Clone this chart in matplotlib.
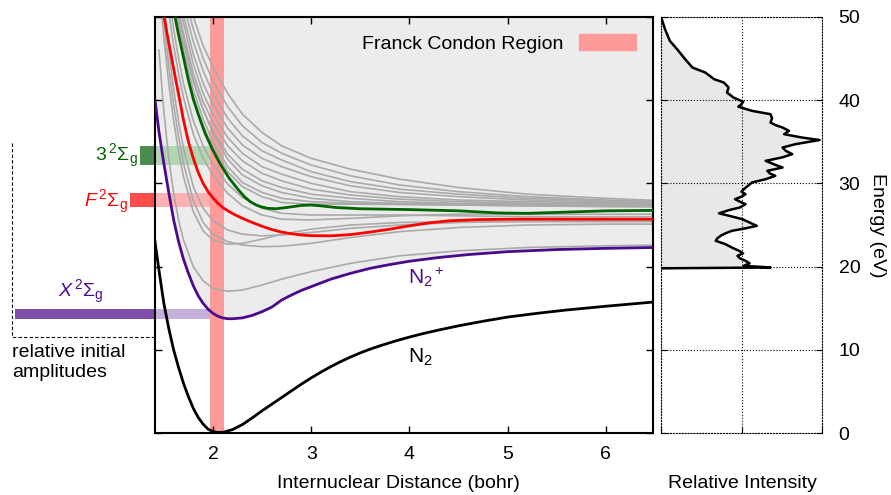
import matplotlib
matplotlib.use("Agg")
import matplotlib.pyplot as plt
from matplotlib.patches import Patch

plt.rcParams['font.family'] = ['Liberation Sans', 'DejaVu Sans']
plt.rcParams['mathtext.fontset'] = 'custom'
plt.rcParams['mathtext.rm'] = 'Liberation Sans'
plt.rcParams['mathtext.it'] = 'Liberation Sans:italic'
plt.rcParams['mathtext.sf'] = 'Liberation Sans'
plt.rcParams['font.size'] = 14

# ground state N2
r_n2 = [1.41, 1.45, 1.50, 1.55, 1.60, 1.65, 1.70, 1.75, 1.80, 1.85, 1.90, 1.95, 2.00, 2.05, 2.10, 2.20,
        2.30, 2.40, 2.50, 2.60, 2.70, 2.80, 2.90, 3.00, 3.10, 3.20, 3.30, 3.40, 3.50, 3.60, 3.70, 3.85,
        4.00, 4.15, 4.30, 4.50, 4.75, 5.00, 5.30, 5.60, 6.00, 6.48]
e_n2 = [23.0, 19.6, 15.6, 12.6, 10.0, 7.9, 6.0, 4.4, 3.0, 1.9, 1.1, 0.5, 0.2, 0.1, 0.12, 0.45,
        1.05, 1.85, 2.7, 3.5, 4.3, 5.1, 5.9, 6.65, 7.35, 8.0, 8.6, 9.15, 9.65, 10.1, 10.5, 11.05,
        11.55, 12.0, 12.4, 12.9, 13.45, 13.95, 14.4, 14.8, 15.25, 15.75]

# N2+ ground state (X 2Sigma_g)
r_x = [1.41, 1.45, 1.50, 1.55, 1.60, 1.65, 1.70, 1.75, 1.80, 1.85, 1.90, 1.95, 2.00, 2.05, 2.10, 2.15,
       2.20, 2.30, 2.40, 2.50, 2.60, 2.70, 2.80, 2.90, 3.00, 3.20, 3.40, 3.60, 3.80, 4.00, 4.30, 4.60,
       5.00, 5.50, 6.00, 6.48]
e_x = [40.0, 36.2, 32.4, 28.9, 25.6, 23.0, 20.9, 19.2, 17.7, 16.5, 15.6, 14.9, 14.4, 14.05, 13.85, 13.75,
       13.75, 13.85, 14.15, 14.6, 15.15, 16.0, 16.6, 17.15, 17.6, 18.5, 19.2, 19.8, 20.25, 20.65, 21.1, 21.45,
       21.8, 22.05, 22.2, 22.3]

# F 2Sigma_g
r_f = [1.50, 1.54, 1.58, 1.62, 1.66, 1.70, 1.75, 1.80, 1.85, 1.90, 1.95, 1.99, 2.05, 2.10, 2.16, 2.22,
       2.30, 2.40, 2.50, 2.60, 2.70, 2.80, 2.90, 3.00, 3.20, 3.40, 3.60, 3.80, 4.00, 4.20, 4.40, 4.70,
       5.10, 6.48]
e_f = [50.2, 47.5, 45.0, 42.5, 40.1, 37.6, 35.0, 33.0, 31.3, 30.0, 29.0, 28.4, 27.6, 27.1, 26.65, 26.25,
       25.8, 25.3, 24.85, 24.45, 24.15, 23.95, 23.8, 23.72, 23.7, 23.85, 24.15, 24.5, 24.9, 25.25, 25.5, 25.65,
       25.7, 25.7]

# 3 2Sigma_g
r_3 = [1.61, 1.645, 1.68, 1.715, 1.75, 1.80, 1.85, 1.92, 1.99, 2.07, 2.16, 2.26, 2.32, 2.38, 2.44, 2.50,
       2.56, 2.64, 2.75, 2.90, 3.00, 3.10, 3.25, 3.50, 4.00, 4.50, 4.90, 5.20, 5.60, 6.00, 6.48]
e_3 = [50.2, 48.1, 46.2, 44.3, 42.4, 40.1, 38.3, 36.0, 34.2, 32.4, 30.7, 29.2, 28.4, 27.8, 27.4, 27.15,
       27.0, 26.95, 27.1, 27.35, 27.4, 27.3, 27.1, 26.95, 26.85, 26.7, 26.45, 26.4, 26.55, 26.7, 26.75]

# other 2Sigma_g states (grey)
r_other = [1.45, 1.5, 1.55, 1.6, 1.65, 1.7, 1.8, 1.9, 2.0, 2.15, 2.3, 2.5, 2.7, 3.0, 3.4, 3.9, 4.5, 5.2, 6.0, 6.5]
e_other = [
    [80, 75, 70, 64, 59, 54.5, 50, 46.5, 44, 40.8, 38.3, 36.1, 34.5, 33.0, 31.7, 30.5, 29.5, 28.7, 28.2, 27.95],
    [78, 72, 66, 61, 57, 53, 48.5, 45, 42.3, 39.2, 36.9, 34.9, 33.6, 32.2, 30.9, 29.8, 29.0, 28.4, 28.0, 27.8],
    [76, 70, 64, 59, 55, 51.5, 47, 43.5, 40.8, 37.8, 35.7, 33.9, 32.8, 31.4, 30.2, 29.3, 28.7, 28.2, 27.9, 27.75],
    [74, 68, 62.5, 57.5, 53.5, 50.2, 45.5, 42, 39.5, 36.6, 34.6, 33.0, 32.0, 30.8, 29.7, 28.9, 28.4, 28.0, 27.8, 27.7],
    [72, 66, 61, 56, 52.5, 49.3, 44.3, 40.8, 38.3, 35.5, 33.6, 32.0, 31.1, 30.0, 29.0, 28.4, 28.0, 27.8, 27.65, 27.6],
    [70, 64.5, 59, 54.5, 51, 48, 43.2, 39.8, 37.3, 34.5, 32.7, 31.2, 30.3, 29.3, 28.6, 28.1, 27.8, 27.65, 27.55, 27.5],
    [68, 62.5, 57.5, 53, 49.7, 46.8, 42.2, 38.8, 36.3, 33.5, 31.7, 30.3, 29.5, 28.7, 28.2, 27.8, 27.6, 27.5, 27.45, 27.4],
    [68, 63, 58, 54, 50.6, 47.5, 42.5, 38.9, 36.0, 32.9, 31.0, 29.7, 28.9, 28.2, 27.8, 27.6, 27.5, 27.4, 27.3, 27.3],
    [66, 61, 56, 52.3, 49, 46, 41.2, 37.7, 35.0, 32.0, 30.1, 28.9, 28.2, 27.8, 27.6, 27.5, 27.4, 27.3, 27.2, 27.2],
    [65, 59.5, 55, 51.2, 48, 45, 40.3, 36.9, 34.3, 31.4, 29.6, 28.4, 27.7, 27.5, 27.5, 27.45, 27.4, 27.3, 27.25, 27.2],
    [62, 57, 52.5, 48.5, 45, 42, 37.5, 34.5, 32.3, 29.9, 28.3, 27.0, 26.4, 26.2, 26.2, 26.2, 26.1, 26.0, 26.0, 26.0],
    [60, 55, 50.5, 46.5, 43.2, 40.3, 35.9, 33.0, 31.0, 28.8, 27.3, 26.2, 25.7, 25.6, 25.8, 26.1, 26.3, 26.3, 26.3, 26.3],
    [56, 49.5, 44, 39.4, 35.6, 32.4, 27.9, 25.3, 23.9, 23.0, 22.6, 22.4, 22.45, 22.8, 23.5, 24.2, 24.7, 25.0, 25.1, 25.1],
    [58, 51.5, 46, 41.3, 37.4, 34.2, 29.6, 27.0, 25.5, 24.4, 23.9, 23.7, 23.8, 24.1, 24.6, 25.0, 25.3, 25.45, 25.5, 25.5],
    [54, 47.5, 42, 37.5, 33.8, 30.8, 26.6, 24.3, 23.2, 22.7, 22.8, 23.3, 23.9, 24.5, 25.0, 25.3, 25.4, 25.4, 25.4, 25.4],
    [46, 38.6, 33, 28.8, 25.6, 23.2, 20.0, 18.3, 17.4, 17.05, 17.2, 17.8, 18.5, 19.4, 20.4, 21.3, 21.9, 22.3, 22.5, 22.6],
]

# relative initial amplitudes of the three states
amp_labels = [r'$3\,^2\Sigma_\mathrm{g}$', r'$F\,^2\Sigma_\mathrm{g}$', r'$X\,^2\Sigma_\mathrm{g}$']
amp_energy = [33.3, 28.0, 14.3]
amp_value = [0.107, 0.178, 1.0]

# photoelectron spectrum
spec_e = [19.8, 19.9, 20.1, 20.4, 20.7, 21.0, 21.3, 21.6, 21.9, 22.3, 22.7, 23.1, 23.4, 23.7, 24.0, 24.3,
          24.6, 24.9, 25.3, 25.7, 26.1, 26.4, 26.8, 27.1, 27.5, 27.8, 28.1, 28.4, 28.7, 29.0, 29.3, 29.7,
          30.1, 30.5, 30.9, 31.2, 31.5, 31.9, 32.3, 32.7, 33.1, 33.5, 33.9, 34.3, 34.7, 35.0, 35.2, 35.5,
          35.9, 36.3, 36.7, 37.0, 37.3, 37.8, 38.3, 38.7, 39.2, 39.5, 39.8, 40.3, 40.9, 41.5, 42.1, 42.5,
          43.3, 43.9, 44.9, 46.1, 47.1, 48.5, 49.7]
spec_i = [0.0, 1.36, 1.03, 1.10, 1.05, 0.98, 0.95, 1.02, 0.97, 0.88, 0.80, 0.68, 0.70, 0.74, 0.80, 0.88,
          1.05, 1.19, 1.10, 1.01, 0.85, 0.72, 0.85, 0.98, 1.05, 0.98, 0.92, 1.00, 1.05, 1.00, 1.03, 1.08,
          1.13, 1.30, 1.42, 1.35, 1.32, 1.51, 1.40, 1.30, 1.50, 1.63, 1.55, 1.51, 1.67, 1.85, 1.97, 1.75,
          1.53, 1.59, 1.51, 1.42, 1.36, 1.38, 1.36, 1.13, 0.96, 1.00, 1.02, 0.90, 0.82, 0.84, 0.78, 0.66,
          0.55, 0.39, 0.30, 0.20, 0.11, 0.05, 0.01]

fc_region = (1.967, 2.11)

state_color = ['#006400', '#ff0000', '#4b0a8c']
band_dark = ['#4c8c4c', '#ff4c4c', '#7d4fa8']
band_light = ['#b2d6b2', '#ffb0b0', '#c4b0d8']
band_height = [2.3, 1.6, 1.2]

fig = plt.figure(figsize=(8.91, 4.95), dpi=100)
ax = fig.add_axes([155 / 891, 61.7 / 495, 498 / 891, 416.6 / 495])
ax2 = fig.add_axes([661 / 891, 61.7 / 495, 161 / 891, 416.6 / 495])

xmin, xmax = 1.41, 6.48
ax.set_xlim(xmin, xmax)
ax.set_ylim(0, 50)

# ionisation continuum above the N2+ ground state
ax.fill_between(r_x, e_x, 50, color='#ececec', lw=0, zorder=0)
ax.axvspan(fc_region[0], fc_region[1], color='#ff9a9a', lw=0, zorder=1)

# amplitude bars: dark part outside the axes, light part up to the FC region
scale = 1.424
for i in range(3):
    ax.barh(amp_energy[i], scale * amp_value[i], left=xmin - scale * amp_value[i],
            height=band_height[i], color=band_dark[i], lw=0, clip_on=False, zorder=1)
    ax.barh(amp_energy[i], fc_region[0] - xmin, left=xmin, height=band_height[i],
            color=band_light[i], lw=0, zorder=1)

for e in e_other:
    ax.plot(r_other, e, color='#aaaaaa', lw=1.2, zorder=2)

ax.plot(r_n2, e_n2, color='black', lw=2.0, zorder=3)
ax.plot(r_x, e_x, color=state_color[2], lw=2.0, zorder=3)
ax.plot(r_f, e_f, color=state_color[1], lw=2.0, zorder=3)
ax.plot(r_3, e_3, color=state_color[0], lw=2.0, zorder=3)

ax.text(3.99, 18.0, r'N$_2$$^+$', color=state_color[2], fontsize=15, va='baseline')
ax.text(3.99, 8.45, r'N$_2$', color='black', fontsize=15, va='baseline')

# state labels on the left
ax.text(1.24, 32.7, amp_labels[0], color=state_color[0], ha='right', va='baseline', clip_on=False)
ax.text(1.13, 27.1, amp_labels[1], color=state_color[1], ha='right', va='baseline', clip_on=False)
ax.text(0.42, 16.4, amp_labels[2], color=state_color[2], ha='left', va='baseline', clip_on=False)

# bracket for amplitudes
ax.plot([-0.045, -0.045, xmin], [34.8, 11.56, 11.56], color='black', lw=0.8, ls=(0, (3, 2)), clip_on=False)
ax.text(-0.045, 10.7, 'relative initial\namplitudes', ha='left', va='top', linespacing=1.2, clip_on=False)

ax.set_xticks([2, 3, 4, 5, 6])
ax.set_yticks([0, 10, 20, 30, 40, 50])
ax.tick_params(direction='in', top=True, right=True, labelleft=False, length=5, width=1, pad=9)
for s in ax.spines.values():
    s.set_linewidth(1.5)

ax.legend(handles=[Patch(color='#ff9a9a', label='Franck Condon Region')], loc='upper right',
          frameon=False, markerfirst=False, handlelength=2.9, handleheight=0.85,
          borderaxespad=0.5, handletextpad=0.8, fontsize=14)

# spectrum panel
ax2.set_xlim(0, 2)
ax2.set_ylim(0, 50)
ax2.fill_betweenx(spec_e, 0, spec_i, color='#e8e8e8', lw=0)
ax2.plot(spec_i, spec_e, color='black', lw=1.8)
ax2.set_xticks([0, 1, 2])
ax2.set_yticks([0, 10, 20, 30, 40, 50])
ax2.grid(True, color='black', ls=':', lw=0.8)
ax2.tick_params(direction='in', left=True, right=True, labelleft=False, labelright=True,
                labelbottom=False, length=4, width=0.8, pad=12)
for s in ax2.spines.values():
    s.set_linestyle(':')
    s.set_linewidth(0.8)
ax2.set_ylabel('Energy (eV)', rotation=-90, labelpad=18)
ax2.yaxis.set_label_position('right')

fig.text(398 / 891, 1 - 484 / 495, 'Internuclear Distance (bohr)', ha='center', va='center')
fig.text(742 / 891, 1 - 484 / 495, 'Relative Intensity', ha='center', va='center')

fig.savefig('out.png', dpi=100)
